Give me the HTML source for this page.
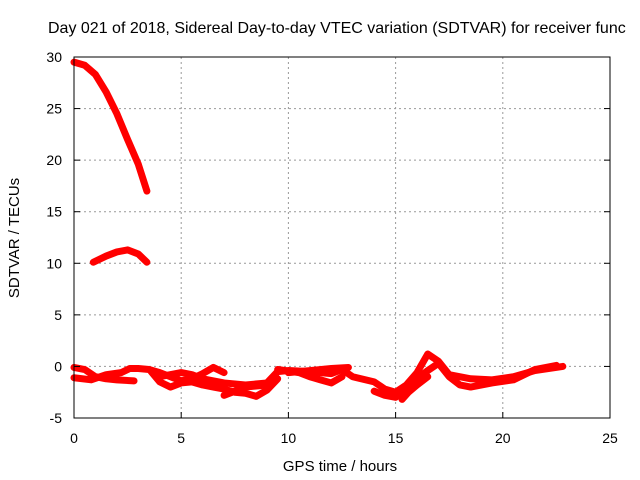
<!DOCTYPE html>
<html><head><meta charset="utf-8"><style>
body{margin:0;background:#fff;}
svg{display:block;font-family:"Liberation Sans",sans-serif;}
</style></head><body>
<svg id="chart" width="640" height="480">
<text x="48" y="33" font-size="16" fill="#000">Day 021 of 2018, Sidereal Day-to-day VTEC variation (SDTVAR) for receiver func</text>
<g id="grid"></g>
<g id="series"></g>
<rect x="74" y="57" width="536" height="361" fill="none" stroke="#000" stroke-width="1"/>
<g id="ticks"></g>
<text x="340" y="471" font-size="15" text-anchor="middle">GPS time / hours</text>
<text transform="translate(19,238) rotate(-90)" font-size="15" text-anchor="middle">SDTVAR / TECUs</text>
</svg>
<script>
const xTicks=[0,5,10,15,20,25];
const yTicks=[-5,0,5,10,15,20,25,30];
const s1=[[0,29.5],[0.5,29.2],[1,28.3],[1.5,26.6],[2,24.5],[2.5,22],[3,19.6],[3.4,17]];
const s2=[[0.9,10.1],[1.5,10.7],[2,11.1],[2.5,11.3],[3,10.9],[3.4,10.1]];
const s3=[[0,-0.1],[0.5,-0.3],[1,-1],[1.5,-1.2],[2,-1.3],[2.8,-1.4]];
const s4=[[0,-1.1],[0.8,-1.3],[1.5,-0.8],[2.2,-0.6],[2.6,-0.2],[3,-0.2],[3.5,-0.3],[4,-0.6],[4.5,-1],[5,-1.4],[5.5,-1.2],[6,-0.7],[6.5,-0.1],[7,-0.6]];
const s5=[[3.6,-0.5],[4,-1.5],[4.5,-2],[5,-1.6],[5.5,-1.5],[6,-1.8],[6.5,-2],[7,-2.2],[7.5,-2.5],[8,-2.6],[8.5,-2.9],[9,-2.3],[9.5,-1.2]];
const s6=[[4,-1],[5,-0.6],[5.5,-0.8],[6,-1.2],[7,-1.6],[8,-1.8],[9,-1.6],[9.5,-0.5],[10,-0.4],[11,-0.5],[12,-0.7],[12.5,-0.3],[13,-1],[14,-1.5],[14.5,-2.2],[15,-2.5],[15.5,-1.8],[16,-0.6],[16.5,1.2],[17,0.5],[17.5,-0.8],[18.5,-1.2],[19.5,-1.3],[20.5,-1],[21.5,-0.4],[22.8,0]];
const s7=[[7,-2.8],[7.5,-2.4],[8,-2],[8.5,-1.9],[9,-1.8]];
const s8=[[14,-2.4],[14.5,-2.8],[15,-3],[15.5,-2.2],[16,-1.2],[16.5,-0.4],[17,0.3],[17.5,-1],[18,-1.8],[18.5,-2],[19.5,-1.6],[20.5,-1.3],[21.5,-0.3],[22.5,0.1]];
const s9=[[9.5,-0.3],[10.5,-0.6],[11,-1],[11.5,-1.3],[12,-1.6],[12.5,-1]];
const s10=[[10,-0.6],[11,-0.4],[12,-0.2],[12.8,-0.1]];
const s11=[[15.3,-3.2],[15.6,-2.5],[16,-1.8],[16.5,-1]];
const allSeries=[s1,s2,s3,s4,s5,s6,s7,s8,s9,s10,s11];
const X0=74,X1=610,Y0=418,Y1=57;
const xs=h=>X0+(h-0)/(25-0)*(X1-X0);
const ys=v=>Y0-(v+5)/(35)*(Y0-Y1);
const NS="http://www.w3.org/2000/svg";
const grid=document.getElementById('grid'),ticks=document.getElementById('ticks'),ser=document.getElementById('series');
function mk(t,a,p){const e=document.createElementNS(NS,t);for(const k in a)e.setAttribute(k,a[k]);p.appendChild(e);return e;}
xTicks.forEach(t=>{const x=xs(t);
 if(t>0&&t<25){const g=mk('line',{x1:x,x2:x,y1:Y1,y2:Y0,stroke:'#999','stroke-dasharray':'2,3'},grid);
 
 }
 const tk=mk('line',{x1:x,x2:x,y1:Y0,y2:Y0-6,stroke:'#000'},ticks);
 
 
 const tl=mk('text',{x:x,y:443,'font-size':14,'text-anchor':'middle'},ticks);tl.textContent=t;
 
 });
yTicks.forEach(t=>{const y=ys(t);
 if(t>-5&&t<30){const g=mk('line',{x1:X0,x2:X1,y1:y,y2:y,stroke:'#999','stroke-dasharray':'2,3'},grid);
 
 }
 const tk=mk('line',{x1:X0,x2:X0+6,y1:y,y2:y,stroke:'#000'},ticks);
 
 
 const tk2=mk('line',{x1:X1,x2:X1-6,y1:y,y2:y,stroke:'#000'},ticks);
 
 
 const tl=mk('text',{x:62,y:y+5,'font-size':14,'text-anchor':'end'},ticks);tl.textContent=t;
 
 });
allSeries.forEach((s,i)=>{
 const p=mk('polyline',{points:s.map(d=>xs(d[0])+','+ys(d[1])).join(' '),fill:'none',stroke:'#f00','stroke-width':7,'stroke-linejoin':'round','stroke-linecap':'round'},ser);
 
 });
</script>
</body></html>
